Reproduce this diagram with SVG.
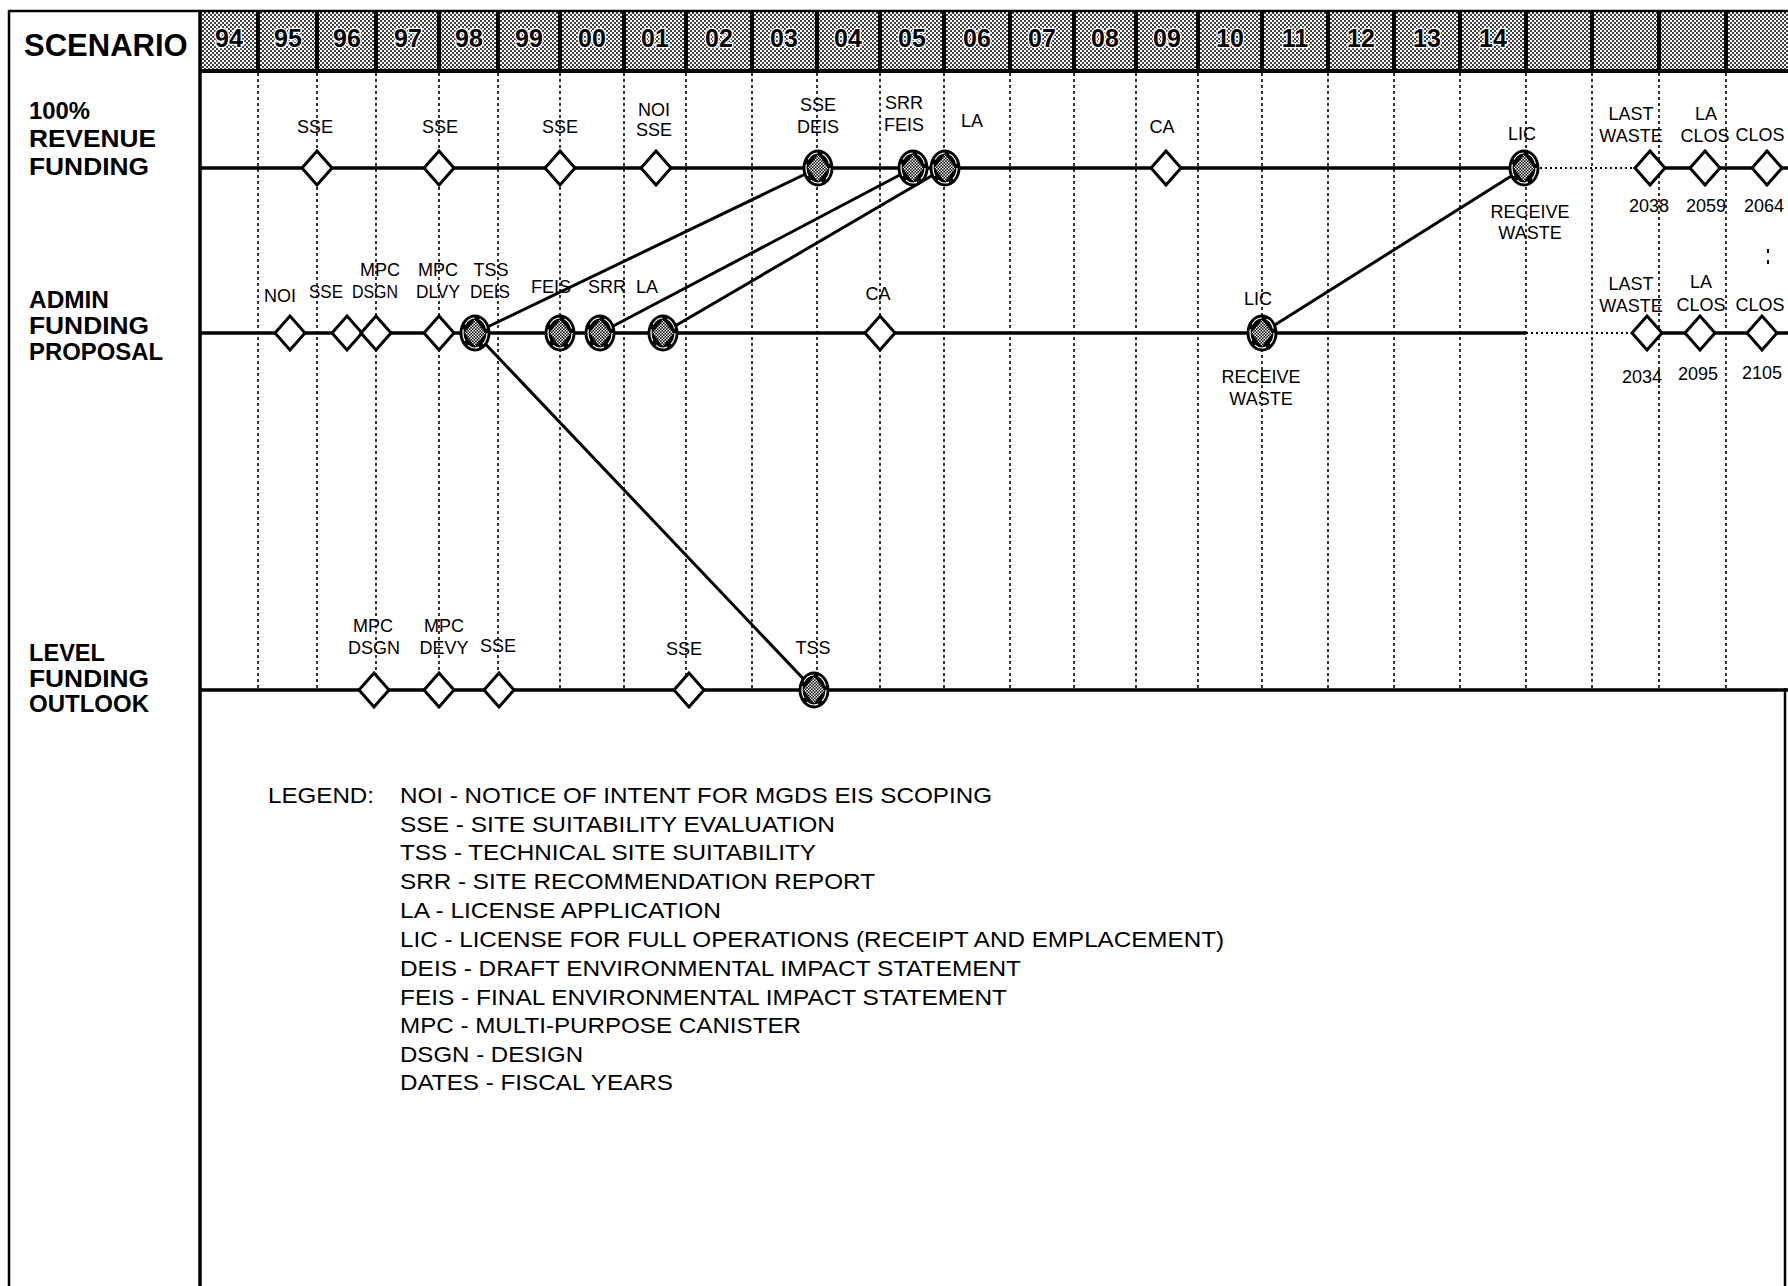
<svg xmlns="http://www.w3.org/2000/svg" xmlns:xlink="http://www.w3.org/1999/xlink" width="1788" height="1286" viewBox="0 0 1788 1286">
<style>
text{font-family:"Liberation Sans",Arial,sans-serif;fill:#000}
.lbl{font-size:18px;text-anchor:middle}
.yr{font-size:25px;font-weight:bold;text-anchor:middle;stroke:#fff;stroke-width:2.5;paint-order:stroke}
.row{font-size:23px;font-weight:bold}
.leg{font-size:22px}
.grid{stroke:#000;stroke-width:1.6;stroke-dasharray:3 3;fill:none}
.tl{stroke:#000;stroke-width:3.5;fill:none}
.dot{stroke:#000;stroke-width:2;stroke-dasharray:2 3;fill:none}
.conn{stroke:#000;stroke-width:3;fill:none}
.frame{stroke:#000;fill:none}
</style>
<defs>
<pattern id="stip" width="4" height="4" patternUnits="userSpaceOnUse">
<rect width="4" height="4" fill="#fff"/><circle cx="1" cy="1" r="1" fill="#000"/><circle cx="3" cy="3" r="1" fill="#000"/>
</pattern>
<pattern id="chk" width="3" height="3" patternUnits="userSpaceOnUse">
<rect width="3" height="3" fill="#000"/><rect width="1.5" height="1.5" fill="#fff"/><rect x="1.5" y="1.5" width="1.5" height="1.5" fill="#fff"/>
</pattern>
<polygon id="dm" points="0,-17 15,0 0,17 -15,0" fill="#fff" stroke="#000" stroke-width="3" stroke-linejoin="miter"/>
<g id="cm">
<ellipse rx="15.5" ry="18.5" fill="#000"/>
<ellipse rx="12" ry="15" fill="none" stroke="#fff" stroke-width="1.2" stroke-dasharray="12 5"/>
<polygon points="0,-13.5 10.5,0 0,13.5 -10.5,0" fill="url(#chk)"/>
</g>
</defs>
<rect width="1788" height="1286" fill="#fff"/>

<g id="frame">
<rect x="200" y="12" width="1588" height="59" fill="url(#stip)"/>
<line class="frame" x1="9" y1="11" x2="1788" y2="11" stroke-width="2.5"/>
<line class="frame" x1="9" y1="10" x2="9" y2="1286" stroke-width="2.5"/>
<line class="frame" x1="200" y1="10" x2="200" y2="1286" stroke-width="3.5"/>
<line class="frame" x1="200" y1="71" x2="1788" y2="71" stroke-width="4"/>
<line class="frame" x1="1785" y1="688" x2="1785" y2="1286" stroke-width="2.5"/>
<g class="frame" stroke-width="4">
<line x1="258" y1="11" x2="258" y2="71"/><line x1="317" y1="11" x2="317" y2="71"/><line x1="376" y1="11" x2="376" y2="71"/>
<line x1="439" y1="11" x2="439" y2="71"/><line x1="498" y1="11" x2="498" y2="71"/><line x1="560" y1="11" x2="560" y2="71"/>
<line x1="624" y1="11" x2="624" y2="71"/><line x1="686" y1="11" x2="686" y2="71"/><line x1="752" y1="11" x2="752" y2="71"/>
<line x1="817" y1="11" x2="817" y2="71"/><line x1="880" y1="11" x2="880" y2="71"/><line x1="944" y1="11" x2="944" y2="71"/>
<line x1="1010" y1="11" x2="1010" y2="71"/><line x1="1074" y1="11" x2="1074" y2="71"/><line x1="1136" y1="11" x2="1136" y2="71"/>
<line x1="1198" y1="11" x2="1198" y2="71"/><line x1="1262" y1="11" x2="1262" y2="71"/><line x1="1328" y1="11" x2="1328" y2="71"/>
<line x1="1394" y1="11" x2="1394" y2="71"/><line x1="1460" y1="11" x2="1460" y2="71"/><line x1="1526" y1="11" x2="1526" y2="71"/>
<line x1="1592" y1="11" x2="1592" y2="71"/><line x1="1659" y1="11" x2="1659" y2="71"/><line x1="1726" y1="11" x2="1726" y2="71"/>
</g>
<g class="grid">
<line x1="258" y1="73" x2="258" y2="690"/><line x1="317" y1="73" x2="317" y2="690"/><line x1="376" y1="73" x2="376" y2="690"/>
<line x1="439" y1="73" x2="439" y2="690"/><line x1="498" y1="73" x2="498" y2="690"/><line x1="560" y1="73" x2="560" y2="690"/>
<line x1="624" y1="73" x2="624" y2="690"/><line x1="686" y1="73" x2="686" y2="690"/><line x1="752" y1="73" x2="752" y2="690"/>
<line x1="817" y1="73" x2="817" y2="690"/><line x1="880" y1="73" x2="880" y2="690"/><line x1="944" y1="73" x2="944" y2="690"/>
<line x1="1010" y1="73" x2="1010" y2="690"/><line x1="1074" y1="73" x2="1074" y2="690"/><line x1="1136" y1="73" x2="1136" y2="690"/>
<line x1="1198" y1="73" x2="1198" y2="690"/><line x1="1262" y1="73" x2="1262" y2="690"/><line x1="1328" y1="73" x2="1328" y2="690"/>
<line x1="1394" y1="73" x2="1394" y2="690"/><line x1="1460" y1="73" x2="1460" y2="690"/><line x1="1526" y1="73" x2="1526" y2="690"/>
<line x1="1592" y1="73" x2="1592" y2="690"/><line x1="1659" y1="73" x2="1659" y2="690"/><line x1="1726" y1="73" x2="1726" y2="690"/>
</g>
<rect x="1767" y="249" width="2" height="4" fill="#000"/><rect x="1767" y="260" width="2" height="4" fill="#000"/>
</g>

<g id="header">
<text x="24" y="56" style="font-size:31px;font-weight:bold">SCENARIO</text>
<text class="yr" x="229" y="47">94</text><text class="yr" x="288" y="47">95</text><text class="yr" x="347" y="47">96</text>
<text class="yr" x="408" y="47">97</text><text class="yr" x="469" y="47">98</text><text class="yr" x="529" y="47">99</text>
<text class="yr" x="592" y="47">00</text><text class="yr" x="655" y="47">01</text><text class="yr" x="719" y="47">02</text>
<text class="yr" x="784" y="47">03</text><text class="yr" x="848" y="47">04</text><text class="yr" x="912" y="47">05</text>
<text class="yr" x="977" y="47">06</text><text class="yr" x="1042" y="47">07</text><text class="yr" x="1105" y="47">08</text>
<text class="yr" x="1167" y="47">09</text><text class="yr" x="1230" y="47">10</text><text class="yr" x="1295" y="47">11</text>
<text class="yr" x="1361" y="47">12</text><text class="yr" x="1427" y="47">13</text><text class="yr" x="1493" y="47">14</text>
</g>

<g id="row-labels">
<text class="row" x="29" y="119" textLength="61" lengthAdjust="spacingAndGlyphs">100%</text><text class="row" x="29" y="147" textLength="127" lengthAdjust="spacingAndGlyphs">REVENUE</text><text class="row" x="29" y="175" textLength="120" lengthAdjust="spacingAndGlyphs">FUNDING</text>
<text class="row" x="29" y="308" textLength="80" lengthAdjust="spacingAndGlyphs">ADMIN</text><text class="row" x="29" y="334" textLength="120" lengthAdjust="spacingAndGlyphs">FUNDING</text><text class="row" x="29" y="360" textLength="134" lengthAdjust="spacingAndGlyphs">PROPOSAL</text>
<text class="row" x="29" y="661" textLength="76" lengthAdjust="spacingAndGlyphs">LEVEL</text><text class="row" x="29" y="687" textLength="120" lengthAdjust="spacingAndGlyphs">FUNDING</text><text class="row" x="29" y="712" textLength="120" lengthAdjust="spacingAndGlyphs">OUTLOOK</text>
</g>

<g id="connectors">
<line class="tl" x1="200" y1="168" x2="1524" y2="168"/>
<line class="dot" x1="1540" y1="168" x2="1636" y2="168"/>
<line class="tl" x1="1650" y1="168" x2="1788" y2="168"/>
<line class="tl" x1="200" y1="333" x2="1526" y2="333"/>
<line class="dot" x1="1526" y1="333" x2="1633" y2="333"/>
<line class="tl" x1="1647" y1="333" x2="1788" y2="333"/>
<line class="tl" x1="200" y1="690" x2="1788" y2="690"/>
<line class="conn" x1="475" y1="333" x2="818" y2="168"/>
<line class="conn" x1="600" y1="333" x2="913" y2="168"/>
<line class="conn" x1="663" y1="333" x2="945" y2="168"/>
<line class="conn" x1="1262" y1="333" x2="1524" y2="168"/>
<line class="conn" x1="475" y1="333" x2="814" y2="690"/>
</g>

<g id="r1-sse-96"><use href="#dm" x="317" y="168"/><text class="lbl" x="315" y="133">SSE</text></g>
<g id="r1-sse-98"><use href="#dm" x="439" y="168"/><text class="lbl" x="440" y="133">SSE</text></g>
<g id="r1-sse-00"><use href="#dm" x="560" y="168"/><text class="lbl" x="560" y="133">SSE</text></g>
<g id="r1-noi-sse"><use href="#dm" x="656" y="168"/><text class="lbl" x="654" y="116">NOI</text><text class="lbl" x="654" y="136">SSE</text></g>
<g id="r1-sse-deis"><use href="#cm" x="818" y="168"/><text class="lbl" x="818" y="111">SSE</text><text class="lbl" x="818" y="133">DEIS</text></g>
<g id="r1-srr-feis"><use href="#cm" x="913" y="168"/><text class="lbl" x="904" y="109">SRR</text><text class="lbl" x="904" y="131">FEIS</text></g>
<g id="r1-la"><use href="#cm" x="945" y="168"/><text class="lbl" x="972" y="127">LA</text></g>
<g id="r1-ca"><use href="#dm" x="1166" y="168"/><text class="lbl" x="1162" y="133">CA</text></g>
<g id="r1-lic"><use href="#cm" x="1524" y="168"/><text class="lbl" x="1522" y="140">LIC</text><text class="lbl" x="1530" y="218">RECEIVE</text><text class="lbl" x="1530" y="239">WASTE</text></g>
<g id="r1-last-waste"><use href="#dm" x="1650" y="168"/><text class="lbl" x="1631" y="120">LAST</text><text class="lbl" x="1631" y="142">WASTE</text><text class="lbl" x="1649" y="212">2038</text></g>
<g id="r1-la-clos"><use href="#dm" x="1705" y="168"/><text class="lbl" x="1706" y="120">LA</text><text class="lbl" x="1705" y="142">CLOS</text><text class="lbl" x="1706" y="212">2059</text></g>
<g id="r1-clos"><use href="#dm" x="1767" y="168"/><text class="lbl" x="1760" y="141">CLOS</text><text class="lbl" x="1764" y="212">2064</text></g>

<g id="r2-noi"><use href="#dm" x="290" y="333"/><text class="lbl" x="280" y="302">NOI</text></g>
<g id="r2-sse"><use href="#dm" x="347" y="333"/><text class="lbl" x="326" y="298" textLength="34" lengthAdjust="spacingAndGlyphs">SSE</text></g>
<g id="r2-mpc-dsgn"><use href="#dm" x="376" y="333"/><text class="lbl" x="380" y="276">MPC</text><text class="lbl" x="375" y="298" textLength="46" lengthAdjust="spacingAndGlyphs">DSGN</text></g>
<g id="r2-mpc-dlvy"><use href="#dm" x="439" y="333"/><text class="lbl" x="438" y="276">MPC</text><text class="lbl" x="438" y="298" textLength="44" lengthAdjust="spacingAndGlyphs">DLVY</text></g>
<g id="r2-tss-deis"><use href="#cm" x="475" y="333"/><text class="lbl" x="491" y="276">TSS</text><text class="lbl" x="490" y="298" textLength="40" lengthAdjust="spacingAndGlyphs">DEIS</text></g>
<g id="r2-feis"><use href="#cm" x="560" y="333"/><text class="lbl" x="551" y="293">FEIS</text></g>
<g id="r2-srr"><use href="#cm" x="600" y="333"/><text class="lbl" x="607" y="293">SRR</text></g>
<g id="r2-la"><use href="#cm" x="663" y="333"/><text class="lbl" x="647" y="293">LA</text></g>
<g id="r2-ca"><use href="#dm" x="880" y="333"/><text class="lbl" x="878" y="300">CA</text></g>
<g id="r2-lic"><use href="#cm" x="1262" y="333"/><text class="lbl" x="1258" y="305">LIC</text><text class="lbl" x="1261" y="383">RECEIVE</text><text class="lbl" x="1261" y="405">WASTE</text></g>
<g id="r2-last-waste"><use href="#dm" x="1647" y="333"/><text class="lbl" x="1631" y="290">LAST</text><text class="lbl" x="1631" y="312">WASTE</text><text class="lbl" x="1642" y="383">2034</text></g>
<g id="r2-la-clos"><use href="#dm" x="1700" y="333"/><text class="lbl" x="1701" y="288">LA</text><text class="lbl" x="1701" y="311">CLOS</text><text class="lbl" x="1698" y="380">2095</text></g>
<g id="r2-clos"><use href="#dm" x="1762" y="333"/><text class="lbl" x="1760" y="311">CLOS</text><text class="lbl" x="1762" y="379">2105</text></g>

<g id="r3-mpc-dsgn"><use href="#dm" x="374" y="690"/><text class="lbl" x="373" y="632">MPC</text><text class="lbl" x="374" y="654">DSGN</text></g>
<g id="r3-mpc-devy"><use href="#dm" x="439" y="690"/><text class="lbl" x="444" y="632">MPC</text><text class="lbl" x="444" y="654">DEVY</text></g>
<g id="r3-sse-98"><use href="#dm" x="499" y="690"/><text class="lbl" x="498" y="652">SSE</text></g>
<g id="r3-sse-01"><use href="#dm" x="689" y="690"/><text class="lbl" x="684" y="655">SSE</text></g>
<g id="r3-tss"><use href="#cm" x="814" y="690"/><text class="lbl" x="813" y="654">TSS</text></g>

<g id="legend">
<text class="leg" x="268" y="803" textLength="106" lengthAdjust="spacingAndGlyphs">LEGEND:</text>
<text class="leg" x="400" y="803" textLength="592" lengthAdjust="spacingAndGlyphs">NOI - NOTICE OF INTENT FOR MGDS EIS SCOPING</text>
<text class="leg" x="400" y="832" textLength="435" lengthAdjust="spacingAndGlyphs">SSE - SITE SUITABILITY EVALUATION</text>
<text class="leg" x="400" y="860" textLength="416" lengthAdjust="spacingAndGlyphs">TSS - TECHNICAL SITE SUITABILITY</text>
<text class="leg" x="400" y="889" textLength="475" lengthAdjust="spacingAndGlyphs">SRR - SITE RECOMMENDATION REPORT</text>
<text class="leg" x="400" y="918" textLength="321" lengthAdjust="spacingAndGlyphs">LA - LICENSE APPLICATION</text>
<text class="leg" x="400" y="947" textLength="824" lengthAdjust="spacingAndGlyphs">LIC - LICENSE FOR FULL OPERATIONS (RECEIPT AND EMPLACEMENT)</text>
<text class="leg" x="400" y="976" textLength="621" lengthAdjust="spacingAndGlyphs">DEIS - DRAFT ENVIRONMENTAL IMPACT STATEMENT</text>
<text class="leg" x="400" y="1005" textLength="607" lengthAdjust="spacingAndGlyphs">FEIS - FINAL ENVIRONMENTAL IMPACT STATEMENT</text>
<text class="leg" x="400" y="1033" textLength="401" lengthAdjust="spacingAndGlyphs">MPC - MULTI-PURPOSE CANISTER</text>
<text class="leg" x="400" y="1062" textLength="183" lengthAdjust="spacingAndGlyphs">DSGN - DESIGN</text>
<text class="leg" x="400" y="1090" textLength="273" lengthAdjust="spacingAndGlyphs">DATES - FISCAL YEARS</text>
</g>
</svg>
